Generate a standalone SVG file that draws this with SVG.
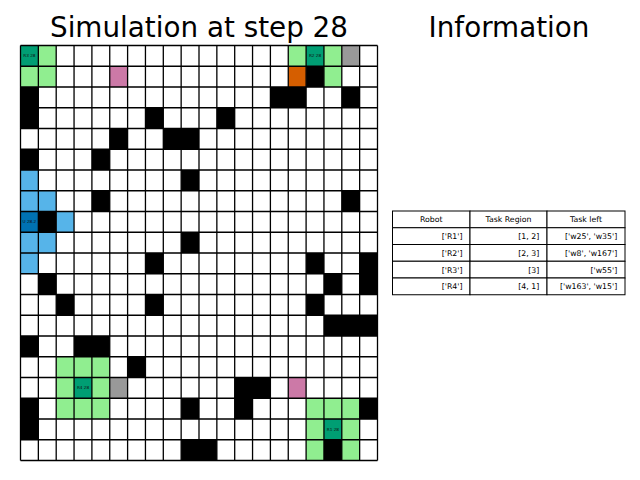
<svg xmlns="http://www.w3.org/2000/svg" width="640" height="480" viewBox="0 0 640 480">
<style>
.t{font-family:"DejaVu Sans","Liberation Sans",sans-serif;fill:#000}
.title{font-size:27.8px;text-anchor:middle}
.c{stroke:none}
.k{fill:#000}
.lg{fill:#90EE90}
.dg{fill:#009E73}
.gr{fill:#999999}
.pk{fill:#CC79A7}
.or{fill:#D55E00}
.lb{fill:#56B4E9}
.db{fill:#0072B2}
.lbl{font-size:4.2px;text-anchor:middle;fill:#111}
.tc{fill:#fff;stroke:#000;stroke-width:1}
.tt{font-size:7.8px}
.r{text-anchor:end}
.m{text-anchor:middle}
</style>
<rect width="640" height="480" fill="#fff"/>
<text class="t title" x="199" y="37">Simulation at step 28</text>
<text class="t title" x="509" y="37">Information</text>
<g id="grid">
<g transform="translate(20.5,45.5) scale(17.85,20.75)">
<rect x="0" y="0" width="20" height="20" fill="#fff"/>
<g id="obstacles" class="k">
<rect x="0" y="2" width="1" height="2"/>
<rect x="14" y="2" width="2" height="1"/>
<rect x="18" y="2" width="1" height="1"/>
<rect x="7" y="3" width="1" height="1"/>
<rect x="11" y="3" width="1" height="1"/>
<rect x="5" y="4" width="1" height="1"/>
<rect x="8" y="4" width="2" height="1"/>
<rect x="0" y="5" width="1" height="1"/>
<rect x="4" y="5" width="1" height="1"/>
<rect x="9" y="6" width="1" height="1"/>
<rect x="4" y="7" width="1" height="1"/>
<rect x="18" y="7" width="1" height="1"/>
<rect x="1" y="8" width="1" height="1"/>
<rect x="9" y="9" width="1" height="1"/>
<rect x="7" y="10" width="1" height="1"/>
<rect x="16" y="10" width="1" height="1"/>
<rect x="19" y="10" width="1" height="2"/>
<rect x="1" y="11" width="1" height="1"/>
<rect x="17" y="11" width="1" height="1"/>
<rect x="2" y="12" width="1" height="1"/>
<rect x="7" y="12" width="1" height="1"/>
<rect x="16" y="12" width="1" height="1"/>
<rect x="17" y="13" width="3" height="1"/>
<rect x="0" y="14" width="1" height="1"/>
<rect x="3" y="14" width="2" height="1"/>
<rect x="6" y="15" width="1" height="1"/>
<rect x="12" y="16" width="2" height="1"/>
<rect x="0" y="17" width="1" height="2"/>
<rect x="9" y="17" width="1" height="1"/>
<rect x="12" y="17" width="1" height="1"/>
<rect x="19" y="17" width="1" height="1"/>
<rect x="9" y="19" width="2" height="1"/>
<rect x="17" y="19" width="1" height="1"/>
<rect x="16" y="1" width="1" height="1"/>
</g>
<g id="ranges" class="lg">
<rect x="1" y="0" width="1" height="1"/>
<rect x="0" y="1" width="2" height="1"/>
<rect x="15" y="0" width="1" height="1"/>
<rect x="17" y="0" width="1" height="2"/>
<rect x="2" y="15" width="3" height="3"/>
<rect x="16" y="17" width="3" height="3"/>
</g>
<g id="robots" class="dg">
<rect x="0" y="0" width="1" height="1"/>
<rect x="16" y="0" width="1" height="1"/>
<rect x="3" y="16" width="1" height="1"/>
<rect x="17" y="18" width="1" height="1"/>
</g>
<rect x="17" y="19" width="1" height="1" class="k"/>
<g id="others">
<rect x="18" y="0" width="1" height="1" class="gr"/>
<rect x="5" y="16" width="1" height="1" class="gr"/>
<rect x="5" y="1" width="1" height="1" class="pk"/>
<rect x="15" y="16" width="1" height="1" class="pk"/>
<rect x="15" y="1" width="1" height="1" class="or"/>
</g>
<g id="human" class="lb">
<rect x="0" y="6" width="1" height="2"/>
<rect x="1" y="7" width="1" height="1"/>
<rect x="2" y="8" width="1" height="1"/>
<rect x="0" y="9" width="2" height="1"/>
<rect x="0" y="10" width="1" height="1"/>
<rect x="0" y="8" width="1" height="1" class="db"/>
</g>
<path id="gridlines" fill="none" stroke="#000" stroke-width="1.3" vector-effect="non-scaling-stroke" d="M0 0H20M0 1H20M0 2H20M0 3H20M0 4H20M0 5H20M0 6H20M0 7H20M0 8H20M0 9H20M0 10H20M0 11H20M0 12H20M0 13H20M0 14H20M0 15H20M0 16H20M0 17H20M0 18H20M0 19H20M0 20H20M0 0V20M1 0V20M2 0V20M3 0V20M4 0V20M5 0V20M6 0V20M7 0V20M8 0V20M9 0V20M10 0V20M11 0V20M12 0V20M13 0V20M14 0V20M15 0V20M16 0V20M17 0V20M18 0V20M19 0V20M20 0V20"/>
</g>
<g id="labels" class="t lbl">
<text x="29.4" y="57.4">R3 28</text>
<text x="315" y="57.4">R2 28</text>
<text x="83" y="389.4">R4 28</text>
<text x="332.9" y="430.9">R1 28</text>
<text x="29.4" y="223.4">U 28.2</text>
</g>
</g>
<g id="table">
<g>
<rect class="tc" x="392.5" y="211" width="77.5" height="16.75"/>
<rect class="tc" x="470" y="211" width="77" height="16.75"/>
<rect class="tc" x="547" y="211" width="78" height="16.75"/>
<rect class="tc" x="392.5" y="227.75" width="77.5" height="16.75"/>
<rect class="tc" x="470" y="227.75" width="77" height="16.75"/>
<rect class="tc" x="547" y="227.75" width="78" height="16.75"/>
<rect class="tc" x="392.5" y="244.5" width="77.5" height="16.75"/>
<rect class="tc" x="470" y="244.5" width="77" height="16.75"/>
<rect class="tc" x="547" y="244.5" width="78" height="16.75"/>
<rect class="tc" x="392.5" y="261.25" width="77.5" height="16.75"/>
<rect class="tc" x="470" y="261.25" width="77" height="16.75"/>
<rect class="tc" x="547" y="261.25" width="78" height="16.75"/>
<rect class="tc" x="392.5" y="278" width="77.5" height="16.75"/>
<rect class="tc" x="470" y="278" width="77" height="16.75"/>
<rect class="tc" x="547" y="278" width="78" height="16.75"/>
</g>
<g class="t tt">
<text class="m" x="431.25" y="222.2">Robot</text>
<text class="m" x="508.5" y="222.2">Task Region</text>
<text class="m" x="586" y="222.2">Task left</text>
<text class="r" x="462.5" y="239">['R1']</text>
<text class="r" x="539.3" y="239">[1, 2]</text>
<text class="r" x="617.2" y="239">['w25', 'w35']</text>
<text class="r" x="462.5" y="255.7">['R2']</text>
<text class="r" x="539.3" y="255.7">[2, 3]</text>
<text class="r" x="617.2" y="255.7">['w8', 'w167']</text>
<text class="r" x="462.5" y="272.5">['R3']</text>
<text class="r" x="539.3" y="272.5">[3]</text>
<text class="r" x="617.2" y="272.5">['w55']</text>
<text class="r" x="462.5" y="289.2">['R4']</text>
<text class="r" x="539.3" y="289.2">[4, 1]</text>
<text class="r" x="617.2" y="289.2">['w163', 'w15']</text>
</g>
</g>
</svg>
